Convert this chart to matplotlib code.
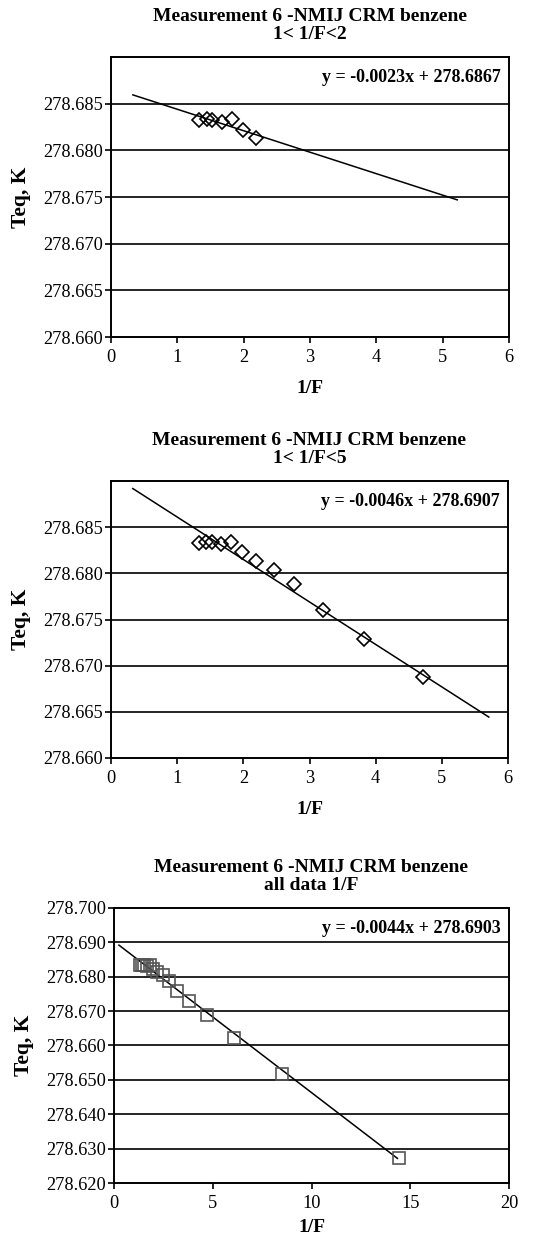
import numpy as np
import matplotlib
matplotlib.use('Agg')
from matplotlib import pyplot as plt

plt.rcParams['font.family'] = ['Liberation Serif', 'DejaVu Serif']

# panel 1: 1 < 1/F < 2
x1 = [1.33, 1.44, 1.53, 1.68, 1.83, 1.99, 2.19]
y1 = [278.6832, 278.6834, 278.6832, 278.6830, 278.6834, 278.6822, 278.6813]
fit1 = (-0.0023, 278.6867)
eq1 = 'y = -0.0023x + 278.6867'
title1 = 'Measurement 6 -NMIJ CRM benzene\n1< 1/F<2'

# panel 2: 1 < 1/F < 5
x2 = [1.33, 1.44, 1.53, 1.66, 1.81, 1.98, 2.19, 2.46, 2.77, 3.21, 3.82, 4.71]
y2 = [278.6833, 278.6834, 278.6834, 278.6832, 278.6834, 278.6823, 278.6813,
      278.6804, 278.6788, 278.6760, 278.6729, 278.6688]
fit2 = (-0.0046, 278.6907)
eq2 = 'y = -0.0046x + 278.6907'
title2 = 'Measurement 6 -NMIJ CRM benzene\n1< 1/F<5'

# panel 3: all data
x3 = x2 + [6.06, 8.52, 14.43]
y3 = y2 + [278.6621, 278.6518, 278.6273]
fit3 = (-0.0044, 278.6903)
eq3 = 'y = -0.0044x + 278.6903'
title3 = 'Measurement 6 -NMIJ CRM benzene\nall data 1/F'

W, H = 543, 1243
fig = plt.figure(figsize=(W / 100, H / 100), dpi=100)


def box(l, t, r, b):
    return [l / W, 1 - b / H, (r - l) / W, (b - t) / H]


def panel(rect, x, y, fit, eq, title, xr, yr, yticks, xticks, line_x, marker, mec, ms, xpad):
    ax = fig.add_axes(rect)
    for yt in yticks[1:]:
        ax.axhline(yt, color='black', lw=1.2, zorder=1)
    xs = np.array(line_x)
    ax.plot(xs, fit[0] * xs + fit[1], color='black', lw=1.1, zorder=2)
    ax.plot(x, y, ls='none', marker=marker, ms=ms, mfc='none', mec=mec, mew=1.2, zorder=3)
    ax.set_xlim(*xr)
    ax.set_ylim(*yr)
    ax.set_yticks(yticks)
    ax.set_yticklabels(['%.3f' % v for v in yticks])
    ax.set_xticks(xticks)
    ax.tick_params(axis='both', direction='out', length=4.5, width=1.2,
                   labelsize=13.2, colors='black', pad=4)
    ax.tick_params(axis='y', pad=1)
    for s in ax.spines.values():
        s.set_linewidth(1.4)
    ax.text(0.98, 0.925, eq, transform=ax.transAxes, ha='right', va='center',
            fontsize=13, fontweight='bold')
    ax.set_title(title, fontsize=14, fontweight='bold', linespacing=1.1, pad=13)
    ax.set_xlabel('1/F', fontsize=14, fontweight='bold', labelpad=xpad)
    ax.set_ylabel('Teq, K', fontsize=15.5, fontweight='bold', labelpad=9)
    return ax


yt_a = [278.660, 278.665, 278.670, 278.675, 278.680, 278.685]
panel(box(111, 57, 509, 337), x1, y1, fit1, eq1, title1, (0, 6), (278.660, 278.690),
      yt_a, range(0, 7), [0.33, 5.22], 'D', 'black', 7.5, 10.5)
panel(box(111, 481, 508, 758), x2, y2, fit2, eq2, title2, (0, 6), (278.660, 278.690),
      yt_a, range(0, 7), [0.33, 5.71], 'D', 'black', 7.5, 10.5)
yt_c = [278.620, 278.630, 278.640, 278.650, 278.660, 278.670, 278.680, 278.690, 278.700]
ax3 = panel(box(114, 908, 509, 1183), x3, y3, fit3, eq3, title3, (0, 20), (278.620, 278.700),
            yt_c[:-1], range(0, 21, 5), [0.25, 14.35], 's', '#555555', 8, 5)
ax3.set_yticks(yt_c)
ax3.set_yticklabels(['%.3f' % v for v in yt_c])

fig.savefig('out.png', dpi=100)
